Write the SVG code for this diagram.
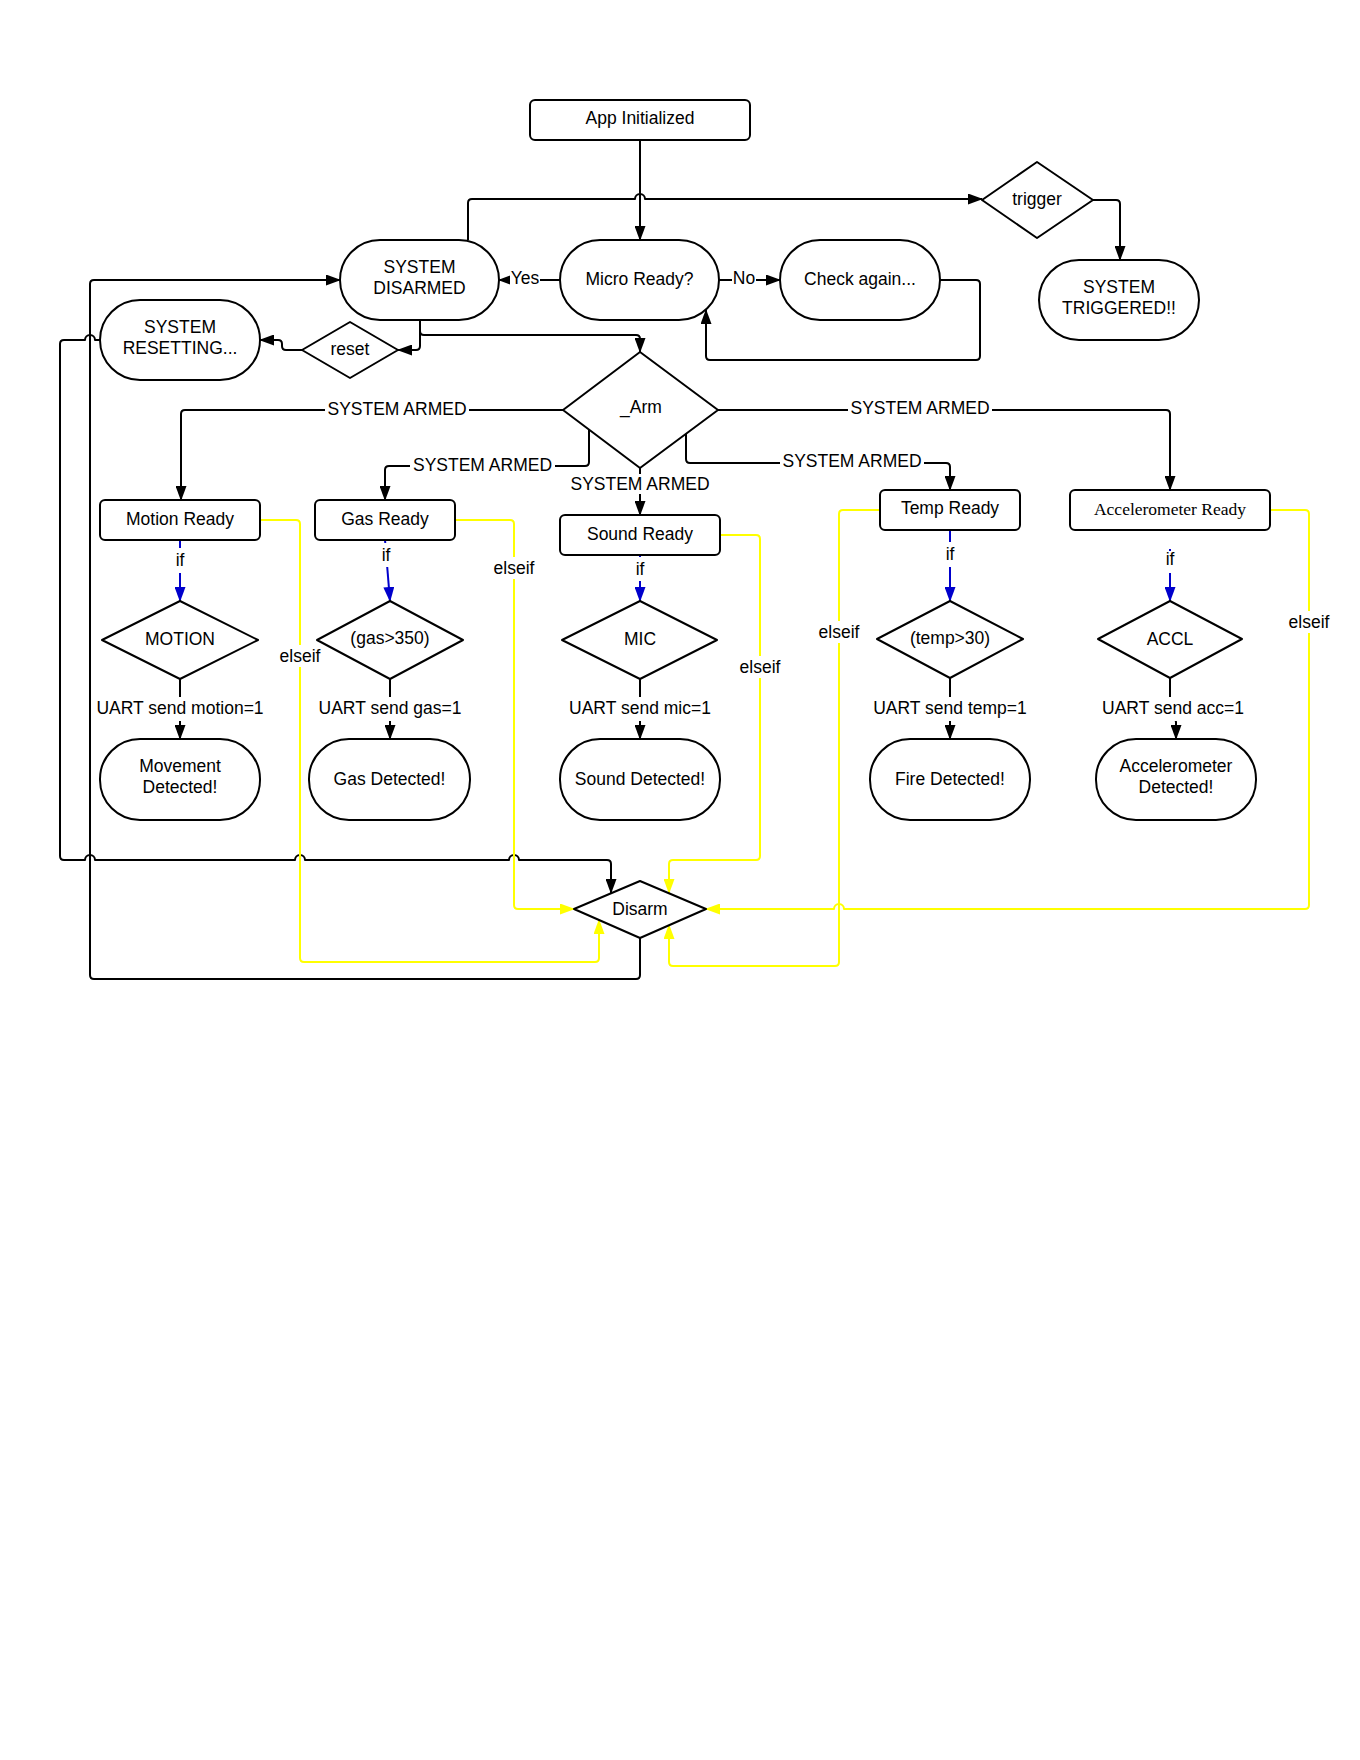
<svg xmlns="http://www.w3.org/2000/svg" width="1360" height="1760" viewBox="0 0 1360 1760">
<style>
  .shape { fill: #fff; stroke: #000; stroke-width: 2; stroke-linejoin: round; }
  .t { font-family: "Liberation Sans", Arial, sans-serif; font-size: 17.5px; fill: #000; text-anchor: middle; }
  .ts { font-family: "Liberation Serif", "DejaVu Serif", serif; font-size: 17.5px; fill: #000; text-anchor: middle; }
  .c { fill: none; stroke: #000; stroke-width: 2; stroke-linejoin: round; }
  .cy { fill: none; stroke: #ffff00; stroke-width: 2; stroke-linejoin: round; }
  .cb { fill: none; stroke: #0000cc; stroke-width: 2; }
  .bg { fill: #fff; stroke: none; }
</style>
<defs>
  <marker id="ak" viewBox="0 0 15 11" refX="14" refY="5.5" markerWidth="15" markerHeight="11" orient="auto" markerUnits="userSpaceOnUse"><path d="M0,0 L15,5.5 L0,11 z" fill="#000"/></marker>
  <marker id="ay" viewBox="0 0 15 11" refX="14" refY="5.5" markerWidth="15" markerHeight="11" orient="auto" markerUnits="userSpaceOnUse"><path d="M0,0 L15,5.5 L0,11 z" fill="#ffff00"/></marker>
  <marker id="ab" viewBox="0 0 15 11" refX="14" refY="5.5" markerWidth="15" markerHeight="11" orient="auto" markerUnits="userSpaceOnUse"><path d="M0,0 L15,5.5 L0,11 z" fill="#0000cc"/></marker>
</defs>
<rect x="0" y="0" width="1360" height="1760" fill="#fff"/>

<g id="connectors">
  <!-- black -->
  <path class="c" d="M640,140 V240" marker-end="url(#ak)"/>
  <path class="c" d="M468,240 V203 Q468,199 472,199 H635 a5,5 0 0 1 10,0 H982" marker-end="url(#ak)"/>
  <path class="c" d="M560,280 H499" marker-end="url(#ak)"/>
  <path class="c" d="M719,280 H780" marker-end="url(#ak)"/>
  <path class="c" d="M940,280 H976 Q980,280 980,284 V356 Q980,360 976,360 H710 Q706,360 706,356 V310" marker-end="url(#ak)"/>
  <path class="c" d="M1093,200 H1116 Q1120,200 1120,204 V260" marker-end="url(#ak)"/>
  <path class="c" d="M420,320 V331 Q420,335 424,335 H636 Q640,335 640,339 V352" marker-end="url(#ak)"/>
  <path class="c" d="M420,320 V346 Q420,350 416,350 H398" marker-end="url(#ak)"/>
  <path class="c" d="M302,350 H286 Q282,350 282,346 V344 Q282,340 278,340 H260" marker-end="url(#ak)"/>
  <path class="c" d="M100,340 H95 a5,5 0 0 0 -10,0 H64 Q60,340 60,344 V856 Q60,860 64,860 H85 a5,5 0 0 1 10,0 H295 a5,5 0 0 1 10,0 H509 a5,5 0 0 1 10,0 H607 Q611,860 611,864 V893" marker-end="url(#ak)"/>
  <path class="c" d="M640,938 V975 Q640,979 636,979 H94 Q90,979 90,975 V284 Q90,280 94,280 H340" marker-end="url(#ak)"/>
  <path class="c" d="M563,410 H185 Q181,410 181,414 V500" marker-end="url(#ak)"/>
  <path class="c" d="M589,430 V462 Q589,466 585,466 H389 Q385,466 385,470 V500" marker-end="url(#ak)"/>
  <path class="c" d="M640,468 V515" marker-end="url(#ak)"/>
  <path class="c" d="M686,434 V459 Q686,463 690,463 H946 Q950,463 950,467 V490" marker-end="url(#ak)"/>
  <path class="c" d="M718,410 H1166 Q1170,410 1170,414 V490" marker-end="url(#ak)"/>
  <path class="c" d="M180,679 V739" marker-end="url(#ak)"/>
  <path class="c" d="M390,679 V739" marker-end="url(#ak)"/>
  <path class="c" d="M640,679 V739" marker-end="url(#ak)"/>
  <path class="c" d="M950,678 V739" marker-end="url(#ak)"/>
  <path class="c" d="M1170,678 V700 L1176,722 V739" marker-end="url(#ak)"/>
  <!-- blue -->
  <path class="cb" d="M180,540 V601" marker-end="url(#ab)"/>
  <path class="cb" d="M385,540 L390,601" marker-end="url(#ab)"/>
  <path class="cb" d="M640,555 V601" marker-end="url(#ab)"/>
  <path class="cb" d="M950,530 V601" marker-end="url(#ab)"/>
  <path class="cb" d="M1170,549 V601" marker-end="url(#ab)"/>
  <!-- yellow -->
  <path class="cy" d="M260,520 H296 Q300,520 300,524 V958 Q300,962 304,962 H595 Q599,962 599,958 V920" marker-end="url(#ay)"/>
  <path class="cy" d="M455,520 H510 Q514,520 514,524 V905 Q514,909 518,909 H574" marker-end="url(#ay)"/>
  <path class="cy" d="M720,535 H756 Q760,535 760,539 V856 Q760,860 756,860 H673 Q669,860 669,864 V893" marker-end="url(#ay)"/>
  <path class="cy" d="M880,510 H843 Q839,510 839,514 V962 Q839,966 835,966 H673 Q669,966 669,962 V925" marker-end="url(#ay)"/>
  <path class="cy" d="M1270,510 H1305 Q1309,510 1309,514 V905 Q1309,909 1305,909 H844 a5,5 0 0 0 -10,0 H706" marker-end="url(#ay)"/>

  <!-- connector labels -->
  <rect class="bg" x="510" y="268" width="30" height="22"/>
  <text class="t" x="525" y="284">Yes</text>
  <rect class="bg" x="732" y="268" width="24" height="22"/>
  <text class="t" x="744" y="284">No</text>

  <rect class="bg" x="325" y="399" width="144" height="20"/>
  <text class="t" x="397" y="415">SYSTEM ARMED</text>
  <rect class="bg" x="410" y="455" width="145" height="20"/>
  <text class="t" x="482.5" y="471">SYSTEM ARMED</text>
  <rect class="bg" x="568" y="474" width="144" height="20"/>
  <text class="t" x="640" y="490">SYSTEM ARMED</text>
  <rect class="bg" x="780" y="451" width="144" height="20"/>
  <text class="t" x="852" y="467">SYSTEM ARMED</text>
  <rect class="bg" x="848" y="398" width="144" height="20"/>
  <text class="t" x="920" y="414">SYSTEM ARMED</text>

  <rect class="bg" x="173" y="548" width="14" height="25"/>
  <text class="t" x="180" y="566">if</text>
  <rect class="bg" x="380" y="543" width="14" height="24"/>
  <text class="t" x="386" y="561">if</text>
  <rect class="bg" x="633" y="557" width="14" height="24"/>
  <text class="t" x="640" y="575">if</text>
  <rect class="bg" x="943" y="542" width="14" height="25"/>
  <text class="t" x="950" y="560">if</text>
  <rect class="bg" x="1163" y="551" width="14" height="22"/>
  <text class="t" x="1170" y="565">if</text>

  <rect class="bg" x="94" y="697" width="172" height="24"/>
  <text class="t" x="180" y="714">UART send motion=1</text>
  <rect class="bg" x="316" y="697" width="148" height="24"/>
  <text class="t" x="390" y="714">UART send gas=1</text>
  <rect class="bg" x="566" y="697" width="148" height="24"/>
  <text class="t" x="640" y="714">UART send mic=1</text>
  <rect class="bg" x="870" y="697" width="160" height="24"/>
  <text class="t" x="950" y="714">UART send temp=1</text>
  <rect class="bg" x="1098" y="697" width="150" height="24"/>
  <text class="t" x="1173" y="714">UART send acc=1</text>

  <rect class="bg" x="278" y="645" width="44" height="22"/>
  <text class="t" x="300" y="662">elseif</text>
  <rect class="bg" x="492" y="557" width="44" height="22"/>
  <text class="t" x="514" y="574">elseif</text>
  <rect class="bg" x="738" y="656" width="44" height="22"/>
  <text class="t" x="760" y="673">elseif</text>
  <rect class="bg" x="817" y="621" width="44" height="22"/>
  <text class="t" x="839" y="638">elseif</text>
  <rect class="bg" x="1287" y="611" width="44" height="22"/>
  <text class="t" x="1309" y="628">elseif</text>
</g>

<g id="app-initialized">
  <rect class="shape" x="530" y="100" width="220" height="40" rx="5"/>
  <text class="t" x="640" y="124">App Initialized</text>
</g>
<g id="system-disarmed">
  <rect class="shape" x="340" y="240" width="159" height="80" rx="40"/>
  <text class="t" x="419.5" y="273">SYSTEM</text>
  <text class="t" x="419.5" y="294">DISARMED</text>
</g>
<g id="micro-ready">
  <rect class="shape" x="560" y="240" width="159" height="80" rx="40"/>
  <text class="t" x="639.5" y="285">Micro Ready?</text>
</g>
<g id="check-again">
  <rect class="shape" x="780" y="240" width="160" height="80" rx="40"/>
  <text class="t" x="860" y="285">Check again...</text>
</g>
<g id="trigger">
  <polygon class="shape" points="982,200 1037,162 1093,200 1037,238"/>
  <text class="t" x="1037" y="205">trigger</text>
</g>
<g id="system-triggered">
  <rect class="shape" x="1039" y="260" width="160" height="80" rx="40"/>
  <text class="t" x="1119" y="293">SYSTEM</text>
  <text class="t" x="1119" y="314">TRIGGERED!!</text>
</g>
<g id="reset">
  <polygon class="shape" points="302,350 350,322 398,350 350,378"/>
  <text class="t" x="350" y="355">reset</text>
</g>
<g id="system-resetting">
  <rect class="shape" x="100" y="300" width="160" height="80" rx="40"/>
  <text class="t" x="180" y="333">SYSTEM</text>
  <text class="t" x="180" y="354">RESETTING...</text>
</g>
<g id="arm">
  <polygon class="shape" points="563,410 640,352 718,410 640,468"/>
  <text class="t" x="641" y="413">_Arm</text>
</g>
<g id="motion-ready">
  <rect class="shape" x="100" y="500" width="160" height="40" rx="5"/>
  <text class="t" x="180" y="525">Motion Ready</text>
</g>
<g id="gas-ready">
  <rect class="shape" x="315" y="500" width="140" height="40" rx="5"/>
  <text class="t" x="385" y="525">Gas Ready</text>
</g>
<g id="sound-ready">
  <rect class="shape" x="560" y="515" width="160" height="40" rx="5"/>
  <text class="t" x="640" y="540">Sound Ready</text>
</g>
<g id="temp-ready">
  <rect class="shape" x="880" y="490" width="140" height="40" rx="5"/>
  <text class="t" x="950" y="514">Temp Ready</text>
</g>
<g id="accelerometer-ready">
  <rect class="shape" x="1070" y="490" width="200" height="40" rx="5"/>
  <text class="ts" x="1170" y="515">Accelerometer Ready</text>
</g>
<g id="motion">
  <polygon class="shape" points="102,640 180,601 258,640 180,679"/>
  <text class="t" x="180" y="645">MOTION</text>
</g>
<g id="gas">
  <polygon class="shape" points="317,640 390,601 463,640 390,679"/>
  <text class="t" x="390" y="644">(gas&gt;350)</text>
</g>
<g id="mic">
  <polygon class="shape" points="562,640 640,601 717,640 640,679"/>
  <text class="t" x="640" y="645">MIC</text>
</g>
<g id="temp">
  <polygon class="shape" points="877,639 950,601 1023,639 950,678"/>
  <text class="t" x="950" y="644">(temp&gt;30)</text>
</g>
<g id="accl">
  <polygon class="shape" points="1098,639 1170,601 1242,639 1170,678"/>
  <text class="t" x="1170" y="645">ACCL</text>
</g>
<g id="movement-detected">
  <rect class="shape" x="100" y="739" width="160" height="81" rx="40"/>
  <text class="t" x="180" y="772">Movement</text>
  <text class="t" x="180" y="793">Detected!</text>
</g>
<g id="gas-detected">
  <rect class="shape" x="309" y="739" width="161" height="81" rx="40"/>
  <text class="t" x="389.5" y="785">Gas Detected!</text>
</g>
<g id="sound-detected">
  <rect class="shape" x="560" y="739" width="160" height="81" rx="40"/>
  <text class="t" x="640" y="785">Sound Detected!</text>
</g>
<g id="fire-detected">
  <rect class="shape" x="870" y="739" width="160" height="81" rx="40"/>
  <text class="t" x="950" y="785">Fire Detected!</text>
</g>
<g id="accelerometer-detected">
  <rect class="shape" x="1096" y="739" width="160" height="81" rx="40"/>
  <text class="t" x="1176" y="772">Accelerometer</text>
  <text class="t" x="1176" y="793">Detected!</text>
</g>
<g id="disarm">
  <polygon class="shape" points="574,909 640,881 706,909 640,938"/>
  <text class="t" x="640" y="915">Disarm</text>
</g>
</svg>
